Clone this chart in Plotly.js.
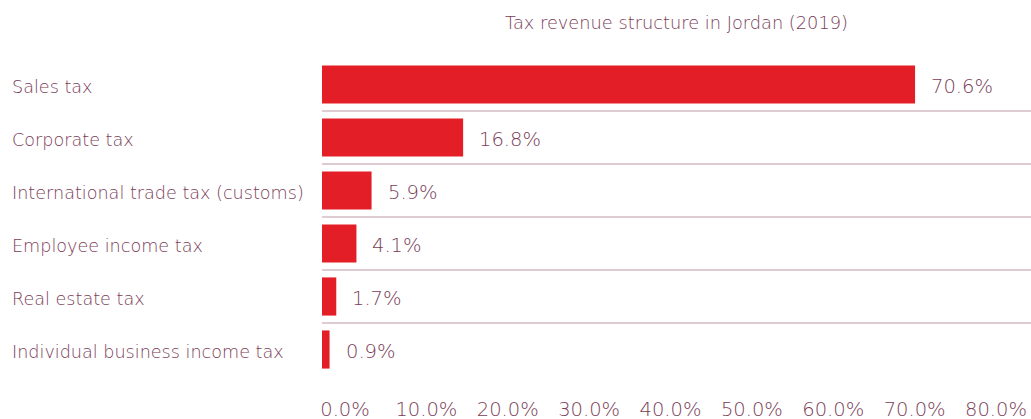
<!DOCTYPE html>
<html>
<head>
<meta charset="utf-8">
<script src="https://cdn.plot.ly/plotly-3.0.1.min.js"></script>
<style>html,body{margin:0;padding:0;background:#fff;}#chart{width:1031px;height:419px;}</style>
</head>
<body>
<div id="chart"></div>
<script>
const categories = ["Sales tax","Corporate tax","International trade tax (customs)","Employee income tax","Real estate tax","Individual business income tax"];
const values = [70.6,16.8,5.9,4.1,1.7,0.9];
const valueLabels = ["70.6%","16.8%","5.9%","4.1%","1.7%","0.9%"];
const tickValues = [0,10,20,30,40,50,60,70,80];
const tickLabels = ["0.0%","10.0%","20.0%","30.0%","40.0%","50.0%","60.0%","70.0%","80.0%"];
const chartTitle = "Tax revenue structure in Jordan (2019)";

const textColor = "#7a3d57";
const font = "DejaVu Sans, sans-serif";

const annotations = [];
categories.forEach((c,i)=>{
  annotations.push({xref:'paper', x:-0.44, y:c, yref:'y', text:c, showarrow:false, xanchor:'left', yanchor:'middle', yshift:-2, font:{family:font,size:17.6,weight:300,color:textColor}});
  annotations.push({x:values[i], y:c, text:valueLabels[i], showarrow:false, xanchor:'left', yanchor:'middle', xshift:14, yshift:-2, font:{family:font,size:19.5,weight:300,color:textColor}});
});

Plotly.newPlot('chart',[{
  type:'bar', orientation:'h', x:values, y:categories,
  marker:{color:'#e31e26'}, width:0.72, hoverinfo:'none'
},{
  type:'scatter', mode:'markers', x:[], y:[], xaxis:'x2', yaxis:'y', hoverinfo:'none'
}],{
  width:1031, height:419,
  margin:{l:322,r:0,t:58,b:43},
  paper_bgcolor:'#fff', plot_bgcolor:'#fff',
  title:{text:chartTitle, x:0.5, xref:'paper', y:0.945, yanchor:'middle', font:{family:font,size:17.8,weight:300,color:textColor}},
  xaxis:{range:[0,84.4], showticklabels:false, showgrid:false, zeroline:false, showline:false, ticks:'', fixedrange:true},
  xaxis2:{overlaying:'x', side:'bottom', range:[-2.83,84.3], tickvals:tickValues, ticktext:tickLabels, showgrid:false, zeroline:false, showline:false, ticklabelstandoff:19,
    tickfont:{family:font,size:19.5,weight:300,color:textColor}, fixedrange:true},
  yaxis:{type:'category', categoryorder:'array', categoryarray:categories, range:[5.5,-0.5], tickson:'boundaries', showgrid:true, gridcolor:'#dfcbd2', gridwidth:1.5,
    showticklabels:false, ticks:'', zeroline:false, showline:false, fixedrange:true},
  annotations:annotations,
  showlegend:false
},{displayModeBar:false, staticPlot:true});
</script>
</body>
</html>
